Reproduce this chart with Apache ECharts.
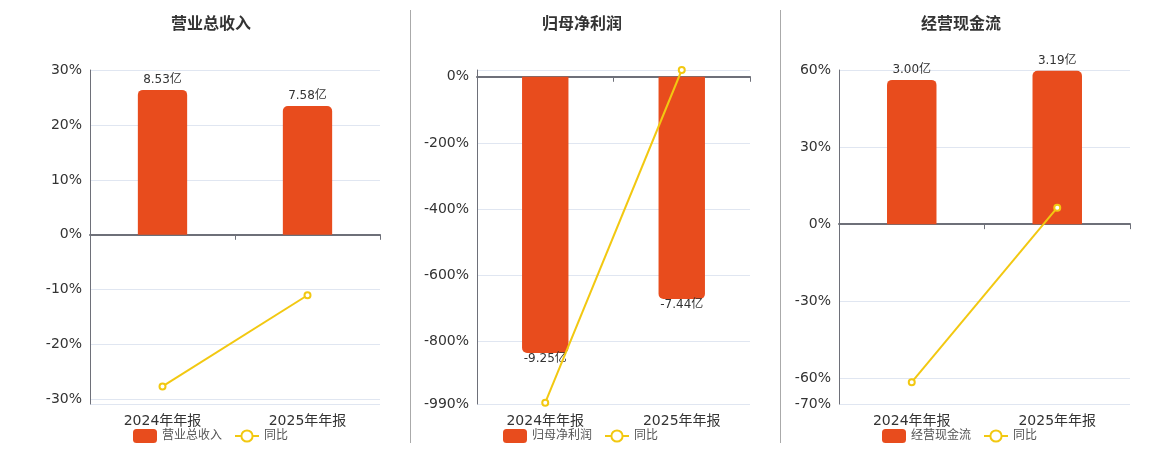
<!DOCTYPE html>
<html>
<head>
<meta charset="utf-8">
<script src="https://cdn.jsdelivr.net/npm/echarts@6/dist/echarts.min.js"></script>
<style>
  html, body { margin: 0; padding: 0; background: #fff; }
  #main { width: 1160px; height: 450px; }
</style>
</head>
<body>
<div id="main"></div>
<script>
// 三个小图：柱子是金额(亿)，折线是同比(%)
const categories = ['2024年年报', '2025年年报'];

const revenue = [8.53, 7.58];
const revenueYoy = [-27.6, -11.0];
const revenueTicks = [30, 20, 10, 0, -10, -20, -30];

const netProfit = [-9.25, -7.44];
const netProfitYoy = [-986, 20.5];
const netProfitTicks = [0, -200, -400, -600, -800, -990];

const cashFlow = [3.00, 3.19];
const cashFlowYoy = [-61.5, 6.4];
const cashFlowTicks = [60, 30, 0, -30, -60, -70];

const titles = ['营业总收入', '归母净利润', '经营现金流'];

const BAR_COLOR = '#e84c1d';
const LINE_COLOR = '#f2c811';
const FONT = 'DejaVu Sans, Noto Sans CJK SC, sans-serif';

const chart = echarts.init(document.getElementById('main'));

// 每个面板的位置
const panels = [
  { left: 90, width: 290, pct: [-30.8, 30], amt: [-9.96, 9.7], ticks: revenueTicks, extra: [-30.8], titleLeft: 166, legendLeft: 128 },
  { left: 477, width: 273, pct: [-990, 20.5], amt: [-10.96, 0.227], ticks: netProfitTicks, extra: [20.5], titleLeft: 537, legendLeft: 498 },
  { left: 839, width: 291, pct: [-70, 60], amt: [-3.74, 3.206], ticks: cashFlowTicks, extra: [], titleLeft: 916, legendLeft: 877 }
];
const barData = [revenue, netProfit, cashFlow];
const lineData = [revenueYoy, netProfitYoy, cashFlowYoy];

const grid = [], xAxis = [], yAxis = [], series = [], title = [], legend = [];

panels.forEach((p, i) => {
  grid.push({ left: p.left, width: p.width, top: 70, height: 334 });
  title.push({
    text: titles[i], left: p.titleLeft, top: 12,
    textStyle: { fontSize: 16, fontWeight: 'bold', color: '#333', fontFamily: FONT }
  });
  // 零线那条轴
  xAxis.push({
    type: 'category', gridIndex: i, data: categories,
    axisLine: { onZero: true, lineStyle: { color: '#6e7079', width: 2 } },
    axisTick: { show: true, lineStyle: { color: '#6e7079' } },
    axisLabel: { show: false }
  });
  // 底部文字
  xAxis.push({
    type: 'category', gridIndex: i, data: categories, position: 'bottom',
    axisLine: { show: false, onZero: false },
    axisTick: { show: false },
    axisLabel: { color: '#333', fontSize: 14, margin: 10, fontFamily: FONT }
  });
  yAxis.push({
    type: 'value', gridIndex: i, position: 'left',
    min: p.pct[0], max: p.pct[1],
    axisLine: { show: true, lineStyle: { color: '#6e7079', width: 1 } },
    axisTick: { show: false, customValues: p.ticks.concat(p.extra) },
    axisLabel: {
      customValues: p.ticks, formatter: '{value}%', color: '#333',
      fontSize: 14, fontFamily: FONT, padding: [4, 0, 0, 0]
    },
    splitLine: { lineStyle: { color: '#e0e6f1' } }
  });
  yAxis.push({
    type: 'value', gridIndex: i, position: 'right', show: false,
    min: p.amt[0], max: p.amt[1], splitLine: { show: false }
  });
  const negative = barData[i][0] < 0;
  series.push({
    name: titles[i], type: 'bar',
    xAxisIndex: i * 2, yAxisIndex: i * 2 + 1,
    data: barData[i], barWidth: '34%',
    itemStyle: { color: BAR_COLOR, borderRadius: negative ? [0, 0, 5, 5] : [5, 5, 0, 0] },
    label: {
      show: true, position: negative ? 'bottom' : 'top', distance: negative ? 0 : 4,
      color: '#333', fontSize: 12, fontFamily: FONT,
      formatter: d => d.value.toFixed(2) + '亿'
    }
  });
  series.push({
    name: '同比', type: 'line',
    xAxisIndex: i * 2, yAxisIndex: i * 2,
    data: lineData[i], symbol: 'emptyCircle', symbolSize: 6,
    itemStyle: { color: LINE_COLOR },
    lineStyle: { color: LINE_COLOR, width: 2 },
    z: 5
  });
  legend.push({
    left: p.legendLeft, top: 424, itemGap: 12,
    itemWidth: 24, itemHeight: 14,
    data: [titles[i], '同比'],
    textStyle: { color: '#555', fontSize: 12, fontFamily: FONT }
  });
});

const option = {
  animation: false,
  title, grid, xAxis, yAxis, series, legend,
  graphic: [
    { type: 'line', shape: { x1: 410.5, y1: 10, x2: 410.5, y2: 443 }, style: { stroke: '#aaa', lineWidth: 1 } },
    { type: 'line', shape: { x1: 780.5, y1: 10, x2: 780.5, y2: 443 }, style: { stroke: '#aaa', lineWidth: 1 } }
  ]
};
option && chart.setOption(option);
</script>
</body>
</html>
